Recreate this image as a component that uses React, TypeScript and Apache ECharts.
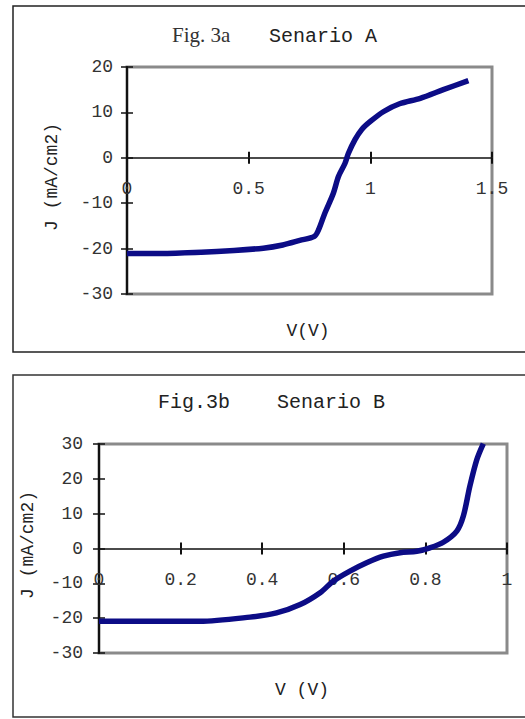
import React, { useEffect, useRef } from "react";
import * as echarts from "echarts";

// Senario A (Fig. 3a): V (V) vs J (mA/cm2)
const voltageA = [0, 0.2, 0.44, 0.56, 0.64, 0.71, 0.77, 0.787, 0.813, 0.848, 0.869, 0.896, 0.91, 0.937, 0.964, 1.0, 1.055, 1.12, 1.205, 1.3, 1.403];
const currentA = [-21.1, -21.0, -20.4, -19.9, -19.2, -18.2, -17.3, -15.9, -12.2, -7.8, -4.1, -1.2, 1.0, 4.0, 6.2, 8.0, 10.2, 11.9, 13.1, 15.0, 17.0];

// Senario B (Fig. 3b)
const voltageB = [0, 0.247, 0.37, 0.435, 0.493, 0.542, 0.574, 0.615, 0.656, 0.697, 0.738, 0.779, 0.811, 0.844, 0.877, 0.893, 0.909, 0.926, 0.942];
const currentB = [-20.9, -20.9, -19.7, -18.5, -16.1, -12.7, -9.4, -6.5, -4.1, -2.2, -1.2, -0.8, 0.2, 1.8, 5.0, 9.3, 17.9, 25.5, 30.1];

const xTicksA = { min: 0, max: 1.5, interval: 0.5 };
const yTicksA = { min: -30, max: 20, interval: 10 };
const xTicksB = { min: 0, max: 1, interval: 0.2 };
const yTicksB = { min: -30, max: 30, interval: 10 };

const titleA = ["Fig. 3a", "Senario A"];
const titleB = ["Fig.3b", "Senario B"];
const yName = "J (mA/cm2)";
const xNameA = "V(V)";
const xNameB = "V (V)";

const MONO = "Liberation Mono, DejaVu Sans Mono, monospace";
const SERIF = "Liberation Serif, DejaVu Serif, serif";
const LINE_COLOR = "#0c0c86";

const gridA = { left: 127, top: 67, width: 365, height: 227 };
const gridB = { left: 99, top: 444, width: 408, height: 209 };

// distance from the grid bottom up to the J = 0 line
function zeroOffset(g: any, t: any) {
  return -g.height * (0 - t.min) / (t.max - t.min);
}

function mainX(gridIndex: number, t: any, offset: number) {
  return {
    type: "value",
    gridIndex,
    position: "bottom",
    offset,
    min: t.min,
    max: t.max,
    interval: t.interval,
    splitLine: { show: false },
    axisLine: { show: true, onZero: false, lineStyle: { color: "#111", width: 1.5 } },
    axisTick: { show: true, inside: false, length: 6, lineStyle: { color: "#111", width: 2 } },
    axisLabel: {
      show: true,
      margin: 22,
      color: "#333",
      fontFamily: MONO,
      fontSize: 18,
      showMinLabel: true,
      showMaxLabel: true,
      formatter: (v: number) => String(Math.round(v * 10) / 10),
    },
  };
}
function innerX(gridIndex: number, t: any, offset: number) {
  return {
    type: "value",
    gridIndex,
    position: "bottom",
    offset,
    min: t.min,
    max: t.max,
    interval: t.interval,
    splitLine: { show: false },
    axisLine: { show: false, onZero: false },
    axisTick: { show: true, inside: true, length: 6, lineStyle: { color: "#111", width: 2 } },
    axisLabel: { show: false },
  };
}
function mainY(gridIndex: number, t: any, margin: number) {
  return {
    type: "value",
    gridIndex,
    position: "left",
    min: t.min,
    max: t.max,
    interval: t.interval,
    splitLine: { show: false },
    axisLine: { show: true, onZero: false, lineStyle: { color: "#111", width: 2 } },
    axisTick: { show: true, inside: false, length: 6, lineStyle: { color: "#111", width: 1.5 } },
    axisLabel: {
      show: true,
      margin,
      color: "#333",
      fontFamily: MONO,
      fontSize: 18,
      showMinLabel: true,
      showMaxLabel: true,
    },
  };
}
function innerY(gridIndex: number, t: any) {
  return {
    type: "value",
    gridIndex,
    position: "left",
    min: t.min,
    max: t.max,
    interval: t.interval,
    splitLine: { show: false },
    axisLine: { show: false, onZero: false },
    axisTick: { show: true, inside: true, length: 6, lineStyle: { color: "#111", width: 1.5 } },
    axisLabel: { show: false },
  };
}

export default function App() {
  const ref = useRef<HTMLDivElement>(null);
  useEffect(() => {
    document.body.style.margin = "0";
    if (!ref.current) return;
    const chart = echarts.init(ref.current, undefined, { renderer: "svg" });
    const dataA = voltageA.map((v, i) => [v, currentA[i]]);
    const dataB = voltageB.map((v, i) => [v, currentB[i]]);
    const offA = zeroOffset(gridA, yTicksA);
    const offB = zeroOffset(gridB, yTicksB);
    chart.setOption({
      animation: false,
      backgroundColor: "#ffffff",
      grid: [
        { ...gridA, show: true, borderColor: "#8a8a8a", borderWidth: 3, backgroundColor: "transparent" },
        { ...gridB, show: true, borderColor: "#8a8a8a", borderWidth: 3, backgroundColor: "transparent" },
      ],
      xAxis: [mainX(0, xTicksA, offA), innerX(0, xTicksA, offA), mainX(1, xTicksB, offB), innerX(1, xTicksB, offB)],
      yAxis: [mainY(0, yTicksA, 14), innerY(0, yTicksA), mainY(1, yTicksB, 16), innerY(1, yTicksB)],
      series: [
        {
          type: "line",
          xAxisIndex: 0,
          yAxisIndex: 0,
          data: dataA,
          smooth: 0.3,
          showSymbol: false,
          lineStyle: { color: LINE_COLOR, width: 5.5 },
        },
        {
          type: "line",
          xAxisIndex: 2,
          yAxisIndex: 2,
          data: dataB,
          smooth: 0.3,
          showSymbol: false,
          lineStyle: { color: LINE_COLOR, width: 5.5 },
        },
      ],
      graphic: [
        { type: "rect", shape: { x: 13, y: 6, width: 540, height: 346 }, style: { fill: "none", stroke: "#222", lineWidth: 1.5 }, z: 0 },
        { type: "rect", shape: { x: 13, y: 375, width: 540, height: 342 }, style: { fill: "none", stroke: "#333", lineWidth: 1.5 }, z: 0 },
        { type: "text", x: 172, y: 35, style: { text: titleA[0], font: `21px ${SERIF}`, fill: "#333", verticalAlign: "middle", align: "left" } },
        { type: "text", x: 269, y: 36, style: { text: titleA[1], font: `20px ${MONO}`, fill: "#222", verticalAlign: "middle", align: "left" } },
        { type: "text", x: 158, y: 402, style: { text: titleB[0], font: `20px ${MONO}`, fill: "#222", verticalAlign: "middle", align: "left" } },
        { type: "text", x: 277, y: 402, style: { text: titleB[1], font: `20px ${MONO}`, fill: "#222", verticalAlign: "middle", align: "left" } },
        { type: "text", x: 308, y: 331, style: { text: xNameA, font: `18px ${MONO}`, fill: "#222", verticalAlign: "middle", align: "center" } },
        { type: "text", x: 302, y: 690, style: { text: xNameB, font: `18px ${MONO}`, fill: "#222", verticalAlign: "middle", align: "center" } },
        { type: "text", x: 52, y: 177, rotation: Math.PI / 2, style: { text: yName, font: `18px ${MONO}`, fill: "#222", verticalAlign: "middle", align: "center" } },
        { type: "text", x: 28, y: 545, rotation: Math.PI / 2, style: { text: yName, font: `18px ${MONO}`, fill: "#222", verticalAlign: "middle", align: "center" } },
      ],
    });
    return () => chart.dispose();
  }, []);
  return <div ref={ref} style={{ width: 525, height: 719 }} />;
}
